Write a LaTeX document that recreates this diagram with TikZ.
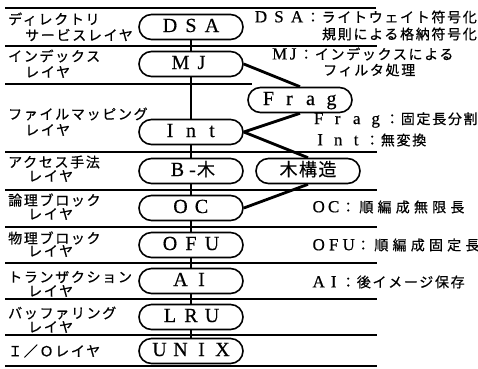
\documentclass[tikz,border=0pt]{standalone}
\usepackage{fontspec}
\setmainfont{Liberation Serif}
\newfontfamily\jpf{Noto Sans CJK JP}[LetterSpace=12, FakeBold=0.6]
\newfontfamily\jpw{Noto Sans CJK JP}[LetterSpace=30, FakeBold=0.6]
\newfontfamily\jpn{Noto Sans CJK JP}[LetterSpace=8, FakeBold=0.4]
\newfontfamily\ltn{Liberation Serif}[FakeBold=0.5]
\newcommand\NC[1]{\makebox[21pt][c]{#1}}
\newcommand\RC[2][18pt]{\makebox[#1][c]{#2}}
\newcommand\RL{\ltn\fontsize{17}{17}\selectfont}
\begin{document}
\begin{tikzpicture}[x=1pt,y=-1pt,
  layerbox/.style={draw, fill=white, line width=1.6pt, rounded corners=12.5pt, minimum width=104pt,
    minimum height=25pt, inner sep=0pt, font=\ltn\fontsize{20}{20}\selectfont,
    text height=14pt, text depth=4pt},
  lbl/.style={anchor=west, inner sep=0pt, font=\fontsize{14}{14}\selectfont\jpf},
  note/.style={anchor=west, inner sep=0pt, font=\fontsize{14}{14}\selectfont\jpf},
  rulel/.style={line width=1.8pt},
  link/.style={line width=2.8pt}]
\useasboundingbox (0,0) rectangle (478,368);
% horizontal rules
\draw[rulel] (5,8) -- (376,8);
\draw[rulel] (5,46) -- (377,46);
\draw[rulel] (5,84) -- (252,84);
\draw[rulel] (5,152) -- (377,152);
\draw[rulel] (5,190) -- (377,190);
\draw[rulel] (5,227) -- (377,227);
\draw[rulel] (5,263) -- (377,263);
\draw[rulel] (5,299) -- (377,299);
\draw[rulel] (5,335) -- (377,335);
\draw[rulel] (5,366) -- (377,366);
% layer nodes
\node[layerbox] (dsa) at (191,27) {\NC{D}\NC{S}\NC{A}};
\node[layerbox] (mj) at (191,64) {\NC{M}\NC{J}};
\node[layerbox] (frag) at (300,100) {\NC{F}\NC{r}\NC{a}\NC{g}};
\node[layerbox] (int) at (191,132) {\NC{I}\NC{n}\NC{t}};
\node[layerbox] (btree) at (191,171) {\NC{B}\makebox[9pt]{-}{\jpn\fontsize{18}{18}\selectfont 木}};
\node[layerbox] (tree) at (308,171) {{\jpn\fontsize{18}{18}\selectfont 木構造}};
\node[layerbox] (oc) at (191,208) {\NC{O}\NC{C}};
\node[layerbox] (ofu) at (191,245) {\NC{O}\NC{F}\NC{U}};
\node[layerbox] (ai) at (191,281) {\NC{A}\NC{I}};
\node[layerbox] (lru) at (191,317) {\NC{L}\NC{R}\NC{U}};
\node[layerbox] (unix) at (191,351) {\NC{U}\NC{N}\NC{I}\NC{X}};
% connectors
\draw[link] (dsa) -- (mj);
\draw[link] (mj) -- (int);
\draw[link] (int) -- (btree);
\draw[link] (btree) -- (oc);
\draw[link] (oc) -- (ofu);
\draw[link] (ofu) -- (ai);
\draw[link] (ai) -- (lru);
\draw[link] (lru) -- (unix);
\draw[link] (mj.east) -- (frag.north);
\draw[link] (int.east) -- (frag.south);
\draw[link] (int.east) -- (tree.north);
\draw[link] (oc.east) -- (tree.south);
% left labels
\node[lbl] (l1a) at (8,19) {ディレクトリ};
\node[lbl] (l1b) at (25,35) {サービスレイヤ};
\node[lbl] (l2a) at (8,56) {インデックス};
\node[lbl] (l2b) at (25,72) {レイヤ};
\node[lbl] (l3a) at (8,114) {ファイルマッピング};
\node[lbl] (l3b) at (25,130) {レイヤ};
\node[lbl] (l4a) at (8,162) {アクセス手法};
\node[lbl] (l4b) at (28,176) {レイヤ};
\node[lbl] (l5a) at (8,200) {論理ブロック};
\node[lbl] (l5b) at (28,214) {レイヤ};
\node[lbl] (l6a) at (8,238) {物理ブロック};
\node[lbl] (l6b) at (28,251) {レイヤ};
\node[lbl] (l7a) at (8,277) {トランザクション};
\node[lbl] (l7b) at (28,291) {レイヤ};
\node[lbl] (l8a) at (8,313) {バッファリング};
\node[lbl] (l8b) at (28,327) {レイヤ};
\node[lbl] (l9) at (8,351) {Ｉ／Ｏレイヤ};
% right notes
\node[note, anchor=east] (n1) at (477,17) {{\RL\RC{D}\RC{S}\RC{A}}：ライトウェイト符号化};
\node[note, anchor=east] (n2) at (477,34) {規則による格納符号化};
\node[note] (n3) at (272,54) {{\RL\RC[15pt]{M}\RC[12pt]{J}}：インデックスによる};
\node[note] (n4) at (323,70) {フィルタ処理};
\node[note] (n5) at (309,120) {{\RL\RC[19pt]{F}\RC[19pt]{r}\RC[19pt]{a}\RC[19pt]{g}}：固定長分割};
\node[note] (n6) at (311,140) {{\RL\RC{I}\RC{n}\RC{t}}：無変換};
\node[note, font=\fontsize{14}{14}\selectfont\jpw] (n7) at (311,207) {{\RL\RC[15pt]{O}\RC[15pt]{C}}：順編成無限長};
\node[note, font=\fontsize{14}{14}\selectfont\jpw] (n8) at (311,245) {{\RL\RC[15pt]{O}\RC[15pt]{F}\RC[15pt]{U}}：順編成固定長};
\node[note] (n9) at (311,282) {{\RL\RC[15pt]{A}\RC[15pt]{I}}：後イメージ保存};
\end{tikzpicture}
\end{document}
